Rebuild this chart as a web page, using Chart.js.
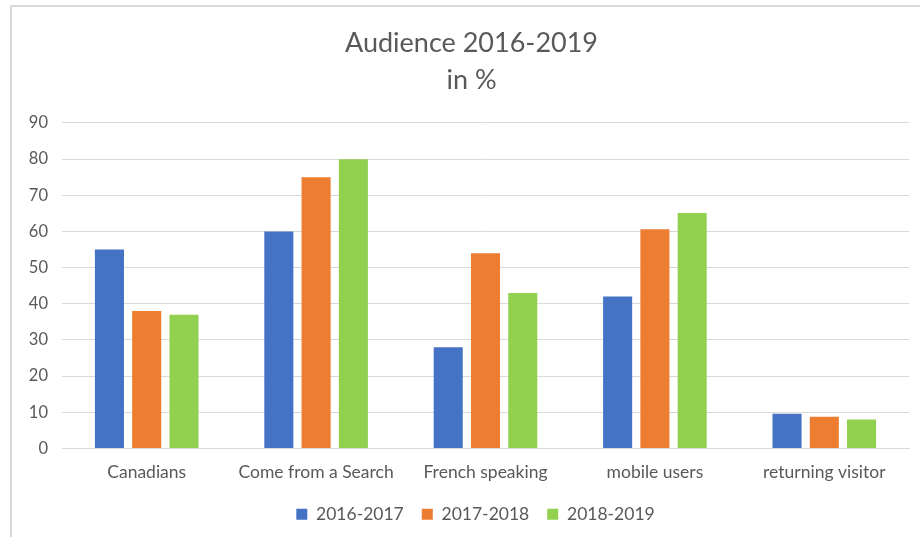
<!DOCTYPE html>
<html>
<head>
<meta charset="utf-8">
<script src="https://cdn.jsdelivr.net/npm/chart.js@4"></script>
<style>
  html, body { margin: 0; padding: 0; background: #fff; }
  #wrap { position: relative; width: 920px; height: 537px; overflow: hidden; }
  #frame { position: absolute; left: 10px; top: 5px; width: 1000px; height: 700px; border-top: 2px solid #d9d9d9; border-left: 2px solid #d9d9d9; box-sizing: border-box; }
  canvas { position: absolute; left: 0; top: 0; }
</style>
</head>
<body>
<div id="wrap">
  <div id="frame"></div>
  <canvas id="c" width="920" height="537"></canvas>
</div>
<script>
const categories = ['Canadians', 'Come from a Search', 'French speaking', 'mobile users', 'returning visitor'];
const seriesNames = ['2016-2017', '2017-2018', '2018-2019'];
const values2016 = [55, 60, 28, 42, 9.6];
const values2017 = [38, 75, 54, 60.6, 8.8];
const values2018 = [37, 80, 43, 65.1, 8];
const yTicks = [0, 10, 20, 30, 40, 50, 60, 70, 80, 90];
const titleLines = ['Audience 2016-2019', 'in %'];

const colors = ['#4472C4', '#ED7D31', '#92D050'];
const textColor = '#595959';
const fontFamily = 'Lato, "Open Sans", sans-serif';

// Centre title and legend on the original chart frame (which is offset to the right)
const frameCentering = {
  id: 'frameCentering',
  afterLayout(chart) {
    if (chart.titleBlock) { chart.titleBlock.left += 14; }
    if (chart.legend) { chart.legend.left += 22; }
  }
};

new Chart(document.getElementById('c'), {
  type: 'bar',
  data: {
    labels: categories,
    datasets: [values2016, values2017, values2018].map((v, i) => ({
      label: seriesNames[i],
      data: v,
      backgroundColor: colors[i],
      borderWidth: 0,
      categoryPercentage: 0.66,
      barPercentage: 0.78
    }))
  },
  plugins: [frameCentering],
  options: {
    responsive: false,
    animation: false,
    layout: { padding: { left: 20, right: 11, top: 0, bottom: 4 } },
    plugins: {
      title: {
        display: true,
        text: titleLines,
        color: textColor,
        font: { family: fontFamily, size: 27, weight: 'normal', lineHeight: 1.37 },
        padding: { top: 25, bottom: 24 }
      },
      legend: {
        position: 'bottom',
        labels: {
          color: textColor,
          font: { family: fontFamily, size: 17.5 },
          boxWidth: 11,
          boxHeight: 11,
          padding: 18
        }
      },
      tooltip: { enabled: false }
    },
    scales: {
      x: {
        grid: { display: false, drawTicks: false },
        border: { display: true, color: '#d9d9d9', width: 1 },
        afterFit: (s) => { s.height = 39; },
        ticks: { color: textColor, font: { family: fontFamily, size: 17.5 }, padding: 13, maxRotation: 0 }
      },
      y: {
        min: 0,
        max: 90,
        afterBuildTicks: (s) => { s.ticks = yTicks.map(v => ({ value: v })); },
        afterFit: (s) => { s.width = 42; },
        grid: { color: '#d9d9d9', drawTicks: false },
        border: { display: false },
        ticks: { color: textColor, font: { family: fontFamily, size: 16.5 }, padding: 14 }
      }
    }
  }
});
</script>
</body>
</html>
